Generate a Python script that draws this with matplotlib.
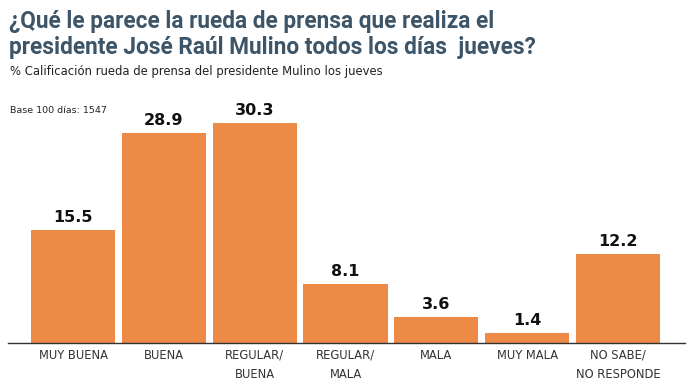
import matplotlib
matplotlib.use('Agg')
import matplotlib.pyplot as plt

categorias = ['MUY BUENA', 'BUENA', 'REGULAR/\nBUENA', 'REGULAR/\nMALA', 'MALA', 'MUY MALA', 'NO SABE/\nNO RESPONDE']
valores = [15.5, 28.9, 30.3, 8.1, 3.6, 1.4, 12.2]
etiquetas = ['15.5', '28.9', '30.3', '8.1', '3.6', '1.4', '12.2']

plt.rcParams['font.family'] = ['DejaVu Sans']

fig = plt.figure(figsize=(6.94, 3.90), dpi=100)
ax = fig.add_axes([8 / 694, 47 / 390, 677 / 694, 243 / 390])

x = list(range(len(valores)))
ax.bar(x, valores, width=0.925, color='#EC8A46')
for xi, v, t in zip(x, valores, etiquetas):
    ax.text(xi, v + 0.7, t, ha='center', va='bottom', fontsize=11.5,
            fontweight='bold', color='#111111')

ax.set_xlim(-0.716, 6.738)
ax.set_ylim(0, 33.47)
ax.set_xticks(x)
ax.set_xticklabels(categorias, fontsize=8.3, color='#333333', linespacing=1.6)
ax.tick_params(axis='x', length=0, pad=4)
ax.set_yticks([])
for s in ['top', 'right', 'left']:
    ax.spines[s].set_visible(False)
ax.spines['bottom'].set_color('#333333')
ax.spines['bottom'].set_linewidth(1.0)

fig.text(9 / 694, 1 - 28 / 390, '¿Qué le parece la rueda de prensa que realiza el',
         fontsize=16.3, fontweight='bold', color='#3D5568', va='baseline', family='Roboto')
fig.text(9 / 694, 1 - 54 / 390, 'presidente José Raúl Mulino todos los días  jueves?',
         fontsize=16.3, fontweight='bold', color='#3D5568', va='baseline', family='Roboto')
fig.text(10 / 694, 1 - 75 / 390, '% Calificación rueda de prensa del presidente Mulino los jueves',
         fontsize=8.4, color='#222222', va='baseline')
fig.text(10 / 694, 1 - 113 / 390, 'Base 100 días: 1547',
         fontsize=6.8, color='#222222', va='baseline')

fig.savefig('out.png', dpi=100)
